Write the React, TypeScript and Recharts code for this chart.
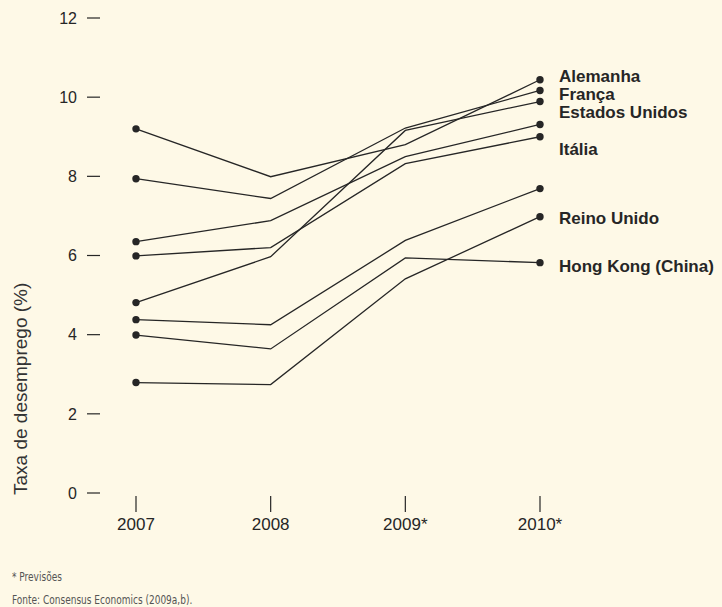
import React from 'react';
import { LineChart, Line, XAxis, YAxis } from 'recharts';

document.body.style.margin = '0';

const BG = '#fef9e7';
const INK = '#262626';
const FONT = '"Liberation Sans", Arial, sans-serif';

// anos (2009 e 2010 são previsões)
const years = ['2007', '2008', '2009*', '2010*'];
const yTicks = [0, 2, 4, 6, 8, 10, 12];

// taxa de desemprego (%) por país
const alemanha = [9.2, 7.99, 8.8, 10.44];
const franca = [7.94, 7.44, 9.22, 10.17];
const estadosUnidos = [4.81, 5.97, 9.16, 9.89];
const semRotuloA = [6.35, 6.88, 8.5, 9.31];
const italia = [5.99, 6.2, 8.32, 9.0];
const semRotuloB = [4.38, 4.25, 6.38, 7.69];
const hongKong = [3.99, 3.64, 5.94, 5.82];
const reinoUnido = [2.79, 2.74, 5.41, 6.98];

const series = [
  { key: 'alemanha', values: alemanha, label: 'Alemanha' },
  { key: 'franca', values: franca, label: 'França' },
  { key: 'estadosUnidos', values: estadosUnidos, label: 'Estados Unidos' },
  { key: 'semRotuloA', values: semRotuloA, label: '' },
  { key: 'italia', values: italia, label: 'Itália' },
  { key: 'semRotuloB', values: semRotuloB, label: '' },
  { key: 'hongKong', values: hongKong, label: 'Hong Kong (China)' },
  { key: 'reinoUnido', values: reinoUnido, label: 'Reino Unido' },
];

// label nudges so the names don't collide
const LABEL_DY: Record<string, number> = {
  alemanha: -3,
  franca: 4,
  estadosUnidos: 10.5,
  italia: 13,
  reinoUnido: 2,
  hongKong: 3.5,
};

const data = years.map((year, i) => {
  const row: any = { year };
  series.forEach(s => { row[s.key] = s.values[i]; });
  return row;
});

const last = years.length - 1;

const EndDot = (props: any) => {
  const { cx, cy, index } = props;
  if (index !== 0 && index !== last) return <g key={`d-${index}`} />;
  return <circle key={`d-${index}`} cx={cx} cy={cy} r={3.7} fill={INK} />;
};

const endLabel = (key: string, text: string) => (props: any) => {
  const { x, y, index } = props;
  if (index !== last || !text) return <g key={`l-${index}`} />;
  return (
    <text
      key={`l-${index}`}
      x={x + 19}
      y={y + (LABEL_DY[key] || 0)}
      dominantBaseline="central"
      fontFamily={FONT}
      fontSize={17}
      fontWeight="bold"
      fill={INK}
    >
      {text}
    </text>
  );
};

const XTick = (props: any) => {
  const { x, y, payload } = props;
  return (
    <g>
      <line x1={x} x2={x} y1={y + 3} y2={y + 19} stroke={INK} strokeWidth={1.2} />
      <text x={x} y={y + 37} textAnchor="middle" fontFamily={FONT} fontSize={17} fill={INK}>
        {payload.value}
      </text>
    </g>
  );
};

const YLabel = () => (
  <text
    x={27}
    y={495}
    transform="rotate(-90, 27, 495)"
    textAnchor="start"
    fontFamily={FONT}
    fontSize={19}
    fill="#333"
  >
    Taxa de desemprego (%)
  </text>
);

const noteStyle: React.CSSProperties = {
  display: 'block',
  whiteSpace: 'nowrap',
  transform: 'scaleX(0.8)',
  transformOrigin: 'left center',
};

export default function App() {
  return (
    <div style={{ position: 'relative', width: 722, height: 607, background: BG, overflow: 'hidden' }}>
      <LineChart width={722} height={607} data={data} margin={{ top: 18, right: 182, left: 0, bottom: 74 }}>
        <XAxis
          dataKey="year"
          axisLine={false}
          tickLine={false}
          tickSize={0}
          tickMargin={0}
          height={40}
          padding={{ left: 36, right: 0 }}
          tick={<XTick />}
          interval={0}
        />
        <YAxis
          domain={[0, 12]}
          ticks={yTicks}
          width={100}
          axisLine={false}
          tickSize={13}
          tickMargin={10}
          tickLine={{ stroke: INK, strokeWidth: 1.2 }}
          tick={{ fill: INK, fontSize: 16, fontFamily: FONT }}
          label={{ content: () => <YLabel /> }}
        />
        {series.map(s => (
          <Line
            key={s.key}
            dataKey={s.key}
            type="linear"
            stroke={INK}
            strokeWidth={1.3}
            dot={<EndDot />}
            activeDot={false}
            label={endLabel(s.key, s.label)}
            isAnimationActive={false}
          />
        ))}
      </LineChart>
      <div
        style={{
          position: 'absolute',
          left: 12,
          top: 565,
          fontFamily: '"DejaVu Sans Condensed", "Liberation Sans", sans-serif',
          fontSize: 12.5,
          color: '#555',
          lineHeight: '23px',
        }}
      >
        <span style={noteStyle}>* Previsões</span>
        <span style={noteStyle}>Fonte: Consensus Economics (2009a,b).</span>
      </div>
    </div>
  );
}
